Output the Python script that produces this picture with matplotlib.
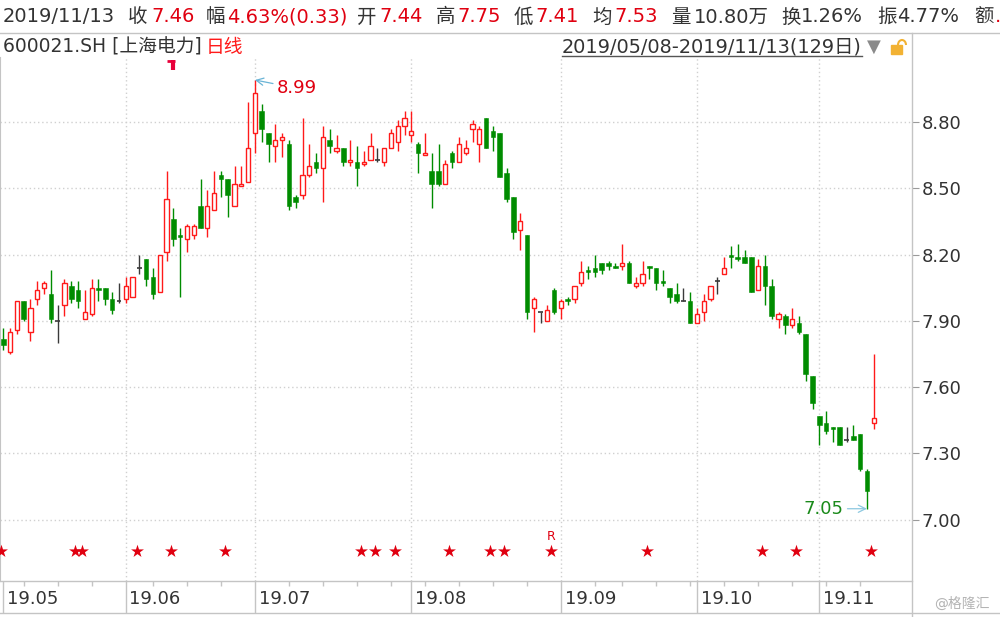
import matplotlib
matplotlib.use('agg')
import matplotlib.pyplot as plt
import matplotlib.patches as patches
import numpy as np
import pandas as pd

plt.rcParams['font.family'] = ['DejaVu Sans', 'Noto Sans CJK SC']

# 600021.SH daily candles, 2019/05/08 - 2019/11/13
opens = [7.82, 7.76, 7.86, 7.99, 7.85, 8.00, 8.05, 8.02, 7.90, 7.97,
         8.06, 8.04, 7.91, 7.93, 8.05, 8.05, 8.00, 7.99, 8.00, 8.01,
         8.14, 8.18, 8.10, 8.03, 8.21, 8.36, 8.29, 8.27, 8.29, 8.42,
         8.32, 8.40, 8.56, 8.54, 8.42, 8.51, 8.53, 8.75, 8.85, 8.75,
         8.69, 8.72, 8.70, 8.46, 8.47, 8.56, 8.62, 8.59, 8.72, 8.67,
         8.68, 8.62, 8.62, 8.61, 8.63, 8.63, 8.62, 8.68, 8.71, 8.78,
         8.74, 8.70, 8.65, 8.58, 8.58, 8.52, 8.66, 8.62, 8.66, 8.77,
         8.70, 8.82, 8.76, 8.75, 8.57, 8.46, 8.31, 8.29, 7.96, 7.94,
         7.90, 8.04, 7.96, 8.00, 8.00, 8.07, 8.13, 8.14, 8.16, 8.16,
         8.15, 8.15, 8.16, 8.06, 8.07, 8.15, 8.14, 8.08, 8.05, 8.02,
         7.99, 7.99, 7.89, 7.94, 8.00, 8.08, 8.11, 8.20, 8.19, 8.19,
         8.19, 8.04, 8.15, 8.06, 7.91, 7.92, 7.88, 7.89, 7.84, 7.65,
         7.47, 7.44, 7.42, 7.42, 7.36, 7.38, 7.39, 7.22, 7.44]
highs = [7.87, 7.87, 7.99, 7.99, 8.00, 8.08, 8.08, 8.13, 7.97, 8.09,
         8.08, 8.08, 8.04, 8.09, 8.09, 8.05, 8.03, 8.07, 8.10, 8.10,
         8.20, 8.18, 8.14, 8.20, 8.58, 8.41, 8.32, 8.34, 8.34, 8.54,
         8.49, 8.58, 8.58, 8.54, 8.60, 8.60, 8.89, 8.99, 8.88, 8.75,
         8.79, 8.75, 8.72, 8.47, 8.82, 8.70, 8.66, 8.78, 8.77, 8.74,
         8.68, 8.72, 8.69, 8.67, 8.75, 8.68, 8.68, 8.77, 8.81, 8.85,
         8.85, 8.71, 8.75, 8.66, 8.70, 8.63, 8.67, 8.73, 8.72, 8.81,
         8.78, 8.82, 8.78, 8.75, 8.59, 8.46, 8.39, 8.29, 8.01, 7.94,
         7.97, 8.05, 8.00, 8.01, 8.06, 8.17, 8.15, 8.20, 8.16, 8.17,
         8.16, 8.25, 8.17, 8.10, 8.17, 8.15, 8.14, 8.13, 8.05, 8.07,
         8.05, 8.03, 7.96, 8.02, 8.06, 8.10, 8.19, 8.24, 8.25, 8.22,
         8.19, 8.18, 8.20, 8.09, 7.94, 7.93, 7.96, 7.92, 7.84, 7.65,
         7.47, 7.49, 7.42, 7.42, 7.42, 7.43, 7.39, 7.23, 7.75]
lows = [7.77, 7.75, 7.84, 7.90, 7.81, 7.97, 8.02, 7.89, 7.80, 7.92,
        7.98, 7.96, 7.91, 7.92, 7.99, 7.97, 7.93, 7.98, 7.98, 8.01,
        8.11, 8.06, 8.00, 8.03, 8.17, 8.24, 8.01, 8.21, 8.27, 8.32,
        8.28, 8.40, 8.46, 8.37, 8.42, 8.51, 8.53, 8.66, 8.71, 8.62,
        8.62, 8.64, 8.40, 8.41, 8.45, 8.55, 8.57, 8.44, 8.66, 8.66,
        8.60, 8.60, 8.51, 8.60, 8.63, 8.62, 8.60, 8.68, 8.67, 8.74,
        8.71, 8.57, 8.65, 8.41, 8.51, 8.52, 8.59, 8.62, 8.65, 8.71,
        8.62, 8.68, 8.67, 8.55, 8.44, 8.27, 8.22, 7.91, 7.85, 7.89,
        7.90, 7.93, 7.91, 7.97, 7.98, 8.06, 8.09, 8.10, 8.11, 8.13,
        8.14, 8.13, 8.07, 8.05, 8.06, 8.09, 8.04, 8.06, 7.98, 7.98,
        7.99, 7.89, 7.89, 7.90, 7.99, 8.02, 8.11, 8.14, 8.17, 8.16,
        8.03, 8.04, 7.97, 7.91, 7.87, 7.84, 7.87, 7.84, 7.63, 7.50,
        7.34, 7.39, 7.35, 7.34, 7.35, 7.36, 7.22, 7.05, 7.41]
closes = [7.79, 7.85, 7.99, 7.91, 7.96, 8.04, 8.07, 7.91, 7.90, 8.07,
          8.00, 7.99, 7.94, 8.05, 8.04, 8.00, 7.95, 7.99, 8.06, 8.10,
          8.14, 8.09, 8.02, 8.20, 8.45, 8.27, 8.28, 8.33, 8.33, 8.32,
          8.42, 8.48, 8.54, 8.47, 8.52, 8.52, 8.68, 8.93, 8.77, 8.70,
          8.72, 8.73, 8.42, 8.44, 8.56, 8.60, 8.59, 8.73, 8.69, 8.68,
          8.62, 8.63, 8.59, 8.62, 8.69, 8.63, 8.68, 8.75, 8.78, 8.82,
          8.76, 8.66, 8.66, 8.52, 8.52, 8.61, 8.62, 8.70, 8.68, 8.79,
          8.77, 8.68, 8.73, 8.55, 8.45, 8.30, 8.35, 7.94, 8.00, 7.94,
          7.95, 7.94, 7.99, 7.99, 8.06, 8.12, 8.12, 8.12, 8.13, 8.15,
          8.14, 8.16, 8.07, 8.07, 8.11, 8.14, 8.07, 8.07, 8.01, 7.99,
          7.99, 7.89, 7.93, 7.99, 8.06, 8.08, 8.14, 8.19, 8.18, 8.16,
          8.03, 8.15, 8.06, 7.92, 7.93, 7.88, 7.91, 7.85, 7.66, 7.53,
          7.43, 7.40, 7.41, 7.34, 7.36, 7.36, 7.23, 7.13, 7.46]

holidays = ['2019-06-07', '2019-09-13', '2019-10-01', '2019-10-02',
            '2019-10-03', '2019-10-04', '2019-10-07']
price_ticks = [7.00, 7.30, 7.60, 7.90, 8.20, 8.50, 8.80]
star_idx = [0, 11, 12, 20, 25, 33, 53, 55, 58, 66, 72, 74, 81, 95, 112, 117, 128]
r_idx = [81]
flag_idx = [25]

head_text = ['2019/11/13', '收', '7.46', '幅', '4.63%(0.33)', '开', '7.44', '高', '7.75',
             '低', '7.41', '均', '7.53', '量', '10.80万', '换', '1.26%', '振', '4.77%', '额', '.']
head_red = [0, 0, 1, 0, 1, 0, 1, 0, 1, 0, 1, 0, 1, 0, 0, 0, 0, 0, 0, 0, 1]
head_x = [3, 128, 151, 206, 227, 357, 379, 436, 457, 514, 535, 592, 614, 671, 694,
          781, 801, 877, 897, 974, 995]

RED = '#ff1a1a'
GREEN = '#008c00'
FLAT = '#3a3a3a'
GRID = '#d0d0d0'
TXT = '#333333'
LINE = '#c4c4c4'

W, H = 1000, 617
def fx(x):
    return x / W
def fy(y):
    return 1 - y / H

days = pd.bdate_range('2019-05-08', '2019-11-13')
days = days[~days.isin(pd.to_datetime(holidays))]

o = np.array(opens); h = np.array(highs); l = np.array(lows); c = np.array(closes)
x = np.arange(len(o))
up = c > o
dn = c < o
fl = c == o

fig = plt.figure(figsize=(10, 6.17), dpi=100)

ax = fig.add_axes([0, fy(581), 0.912, (581 - 57) / H])
ax.set_xlim(-0.485, 133.63)
ax.set_ylim(6.723, 9.094)
for s in ['top', 'bottom', 'right']:
    ax.spines[s].set_visible(False)
ax.spines['left'].set_color(LINE)

# grid
for p in price_ticks:
    ax.axhline(p, color=GRID, lw=1, ls=(0, (1, 2)), zorder=0)
month_start = [0] + [i for i in range(1, len(days)) if days[i].month != days[i - 1].month]
for m in month_start[1:]:
    ax.axvline(m, color=GRID, lw=1, ls=(0, (1, 2)), zorder=0)

# candles
ax.vlines(x[up], l[up], h[up], color=RED, lw=1, zorder=2)
ax.bar(x[up], c[up] - o[up], bottom=o[up], width=0.62, facecolor='white',
       edgecolor=RED, lw=1, zorder=3)
ax.vlines(x[dn], l[dn], h[dn], color=GREEN, lw=1, zorder=2)
ax.bar(x[dn], o[dn] - c[dn], bottom=c[dn], width=0.66, color=GREEN, lw=0.4,
       edgecolor=GREEN, zorder=3)
ax.vlines(x[fl], l[fl], h[fl], color=FLAT, lw=1, zorder=2)
ax.hlines(o[fl], x[fl] - 0.34, x[fl] + 0.34, color=FLAT, lw=1.2, zorder=3)

# right axis
ax.yaxis.tick_right()
ax.set_yticks(price_ticks)
ax.set_yticklabels(['%.2f' % p for p in price_ticks])
ax.tick_params(axis='y', length=5, color='#9a9a9a', labelcolor=TXT, labelsize=13, pad=2)
ax.set_xticks([])

# max / min labels
hi = int(np.argmax(h))
lo = int(np.argmin(l))
ax.annotate('%.2f' % h[hi], xy=(hi, h[hi]), xytext=(16, -6), textcoords='offset points',
            color='#e00010', fontsize=13, ha='left', va='center',
            arrowprops=dict(arrowstyle='->', color='#6ab4d6', lw=0.9, shrinkA=1, shrinkB=0))
ax.annotate('%.2f' % l[lo], xy=(lo, l[lo]), xytext=(-17, 0), textcoords='offset points',
            color='#1a8a1a', fontsize=13, ha='right', va='center',
            arrowprops=dict(arrowstyle='->', color='#8cc8e0', lw=0.9, shrinkA=1, shrinkB=0))

# signal stars
ax.scatter(np.array(star_idx) - 0.4, [6.859] * len(star_idx), marker='*', s=95,
           color='#e00010', lw=0, zorder=4)
for r in r_idx:
    ax.text(r - 0.4, 6.925, 'R', color='#e00010', fontsize=9, ha='center', va='center')
for f in flag_idx:
    ax.plot([f - 1.0, f + 0.25], [9.076, 9.076], color='#e8003a', lw=2, solid_capstyle='butt')
    ax.plot([f, f], [9.081, 9.036], color='#e8003a', lw=3, solid_capstyle='butt')

# date axis bar
axb = fig.add_axes([0, fy(613), 0.912, 32 / H])
axb.set_xlim(ax.get_xlim())
axb.set_ylim(0, 1)
axb.axis('off')
week_start = [i for i in range(1, len(days))
              if days[i].isocalendar()[1] != days[i - 1].isocalendar()[1] and i not in month_start]
axb.vlines(month_start, 0, 1, color=LINE, lw=1)
axb.vlines(week_start, 1 - 5 / 32, 1, color=LINE, lw=1)
for m in month_start:
    axb.text(m + 0.55, 0.45, '%02d.%02d' % (days[m].year % 100, days[m].month),
             color=TXT, fontsize=13, ha='left', va='center')

# frame lines
fig.add_artist(plt.Line2D([0, 1], [fy(33), fy(33)], color=LINE, lw=1))
fig.add_artist(plt.Line2D([0, 0.912], [fy(581), fy(581)], color=LINE, lw=1))
fig.add_artist(plt.Line2D([0, 1], [fy(613), fy(613)], color=LINE, lw=1))
fig.add_artist(plt.Line2D([0.912, 0.912], [fy(33), 0], color=LINE, lw=1))

# header
for t, r, hx in zip(head_text, head_red, head_x):
    fig.text(fx(hx), fy(17), t, color='#e00010' if r else TXT, fontsize=14,
             ha='left', va='center')
fig.text(fx(3), fy(47), '600021.SH [上海电力]', color=TXT, fontsize=13.5, ha='left', va='center')
fig.text(fx(206), fy(47), '日线', color='#ff1a1a', fontsize=13.5, ha='left', va='center')
fig.text(fx(562), fy(47), '2019/05/08-2019/11/13(129日)', color=TXT, fontsize=13.9,
         ha='left', va='center')
fig.add_artist(plt.Line2D([fx(562), fx(862)], [fy(56), fy(56)], color='#555555', lw=1))
fig.text(fx(874), fy(47), '\u25bc', color='#8a8a8a', fontsize=13, ha='center', va='center')
fig.add_artist(patches.Rectangle((fx(891), fy(54)), 11 / W, 9 / H, color='#f2b233',
                                 transform=fig.transFigure))
fig.add_artist(patches.Arc((fx(902), fy(45)), 8 / W, 10 / H, theta1=0, theta2=180,
                           color='#f2b233', lw=1.5, transform=fig.transFigure))
fig.text(fx(990), fy(604), '@格隆汇', color='#b4b4b4', fontsize=10, ha='right', va='center')

fig.savefig('out.png', dpi=100)
